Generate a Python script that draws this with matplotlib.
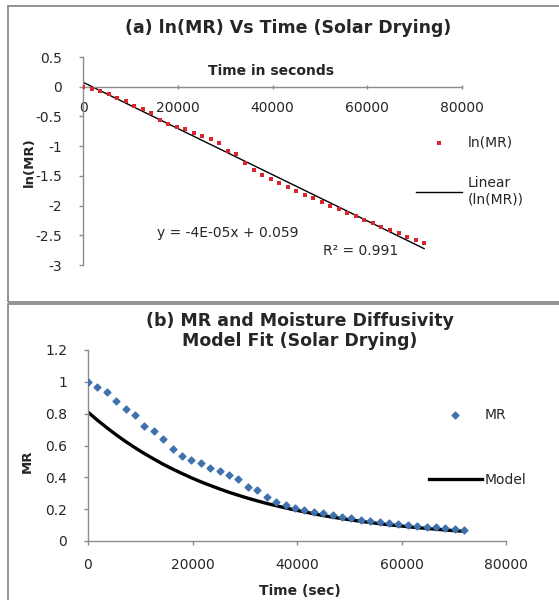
import numpy as np
import matplotlib
matplotlib.use("Agg")
import matplotlib.pyplot as plt
from matplotlib.patches import Rectangle

# time grid (s) - readings every 30 min
time_s = [0, 1800, 3600, 5400, 7200, 9000, 10800, 12600, 14400, 16200,
          18000, 19800, 21600, 23400, 25200, 27000, 28800, 30600, 32400, 34200,
          36000, 37800, 39600, 41400, 43200, 45000, 46800, 48600, 50400, 52200,
          54000, 55800, 57600, 59400, 61200, 63000, 64800, 66600, 68400, 70200,
          72000]

mr = [1.000, 0.966, 0.933, 0.880, 0.828, 0.792, 0.722, 0.689, 0.639, 0.575,
      0.535, 0.507, 0.487, 0.460, 0.439, 0.412, 0.388, 0.340, 0.320, 0.275,
      0.248, 0.225, 0.210, 0.197, 0.185, 0.173, 0.163, 0.153, 0.144, 0.135,
      0.127, 0.120, 0.113, 0.107, 0.101, 0.095, 0.090, 0.085, 0.080, 0.076,
      0.072]

# diffusivity model curve
model = [0.810, 0.759, 0.712, 0.667, 0.625, 0.586, 0.549, 0.515, 0.482, 0.452,
         0.424, 0.397, 0.372, 0.349, 0.327, 0.306, 0.287, 0.269, 0.252, 0.236,
         0.222, 0.208, 0.195, 0.183, 0.171, 0.160, 0.150, 0.141, 0.132, 0.124,
         0.116, 0.109, 0.102, 0.096, 0.090, 0.084, 0.079, 0.074, 0.069, 0.065,
         0.061]

x_ticks = [0, 20000, 40000, 60000, 80000]
x_ticklabels = ["0", "20000", "40000", "60000", "80000"]
a_yticks = [-3, -2.5, -2, -1.5, -1, -0.5, 0, 0.5]
a_yticklabels = ["-3", "-2.5", "-2", "-1.5", "-1", "-0.5", "0", "0.5"]
b_yticks = [0, 0.2, 0.4, 0.6, 0.8, 1.0, 1.2]
b_yticklabels = ["0", "0.2", "0.4", "0.6", "0.8", "1", "1.2"]

eq_text = "y = -4E-05x + 0.059"
r2_text = "R\u00b2 = 0.991"

W, H = 559.0, 600.0
AXC = "#8c8c8c"
TXT = "#262626"
RED = "#d8262f"
BLUE = "#3f72ad"


def fx(px):
    return px / W


def fy(py):
    return 1 - py / H


def style_axes(ax):
    for s in ["top", "right"]:
        ax.spines[s].set_visible(False)
    for s in ["left", "bottom"]:
        ax.spines[s].set_color(AXC)
        ax.spines[s].set_linewidth(1.0)
    ax.tick_params(colors=AXC, labelcolor=TXT, labelsize=10, length=3, width=1)


fig = plt.figure(figsize=(W / 100, H / 100), dpi=100)

# ---- panel (a) ----
ax_a = fig.add_axes([fx(83), fy(265), fx(462) - fx(83), (265 - 57) / H])
ln_mr = np.log(mr)
coef = np.polyfit(time_s, ln_mr, 1)
fit = np.polyval(coef, time_s)
ax_a.scatter(time_s, ln_mr, marker="s", s=5, color=RED, linewidths=0,
             zorder=3, label="ln(MR)")
ax_a.plot(time_s, fit, color="black", lw=1.0, label="Linear\n(ln(MR))")
ax_a.set_xlim(0, 80000)
ax_a.set_ylim(-3, 0.5)
style_axes(ax_a)
ax_a.spines["bottom"].set_position(("data", 0))
ax_a.set_xticks(x_ticks)
ax_a.set_xticklabels(x_ticklabels)
ax_a.set_yticks(a_yticks)
ax_a.set_yticklabels(a_yticklabels)
ax_a.tick_params(axis="x", direction="inout", pad=9)
ax_a.tick_params(axis="y", direction="out", pad=12)
ax_a.legend(loc="upper left", bbox_to_anchor=(fx(409), fy(129)), bbox_transform=fig.transFigure,
            frameon=False, borderpad=0, handlelength=3.3, handletextpad=0.45,
            labelspacing=1.9, scatterpoints=1, fontsize=10, labelcolor=TXT)

fig.text(fx(288), fy(28), "(a) ln(MR) Vs Time (Solar Drying)", ha="center", va="center",
         fontsize=12.5, weight="bold", color=TXT)
fig.text(fx(271), fy(71), "Time in seconds", ha="center", va="center",
         fontsize=10, weight="bold", color=TXT)
fig.text(fx(29), fy(162), "ln(MR)", ha="center", va="center", rotation=90,
         fontsize=9.5, weight="bold", color=TXT)
fig.text(fx(157), fy(233), eq_text, ha="left", va="center", fontsize=10, color=TXT)
fig.text(fx(398), fy(251), r2_text, ha="right", va="center", fontsize=10, color=TXT)

# ---- panel (b) ----
ax_b = fig.add_axes([fx(88), fy(541), fx(506) - fx(88), (541 - 350) / H])
ax_b.scatter(time_s, mr, marker="D", s=12, color=BLUE, zorder=3, label="MR")
ax_b.plot(time_s, model, color="black", lw=2.4, label="Model")
ax_b.set_xlim(0, 80000)
ax_b.set_ylim(0, 1.2)
style_axes(ax_b)
ax_b.set_xticks(x_ticks)
ax_b.set_xticklabels(x_ticklabels)
ax_b.set_yticks(b_yticks)
ax_b.set_yticklabels(b_yticklabels)
ax_b.tick_params(axis="x", direction="out", pad=9)
ax_b.tick_params(axis="y", direction="out", pad=12)
ax_b.legend(loc="upper left", bbox_to_anchor=(fx(422), fy(401)), bbox_transform=fig.transFigure,
            frameon=False, borderpad=0, handlelength=3.8, handletextpad=0.2,
            labelspacing=3.7, scatterpoints=1, fontsize=10, labelcolor=TXT)

fig.text(fx(300), fy(331), "(b) MR and Moisture Diffusivity\nModel Fit (Solar Drying)",
         ha="center", va="center", fontsize=12.5, weight="bold", color=TXT, linespacing=1.15)
fig.text(fx(300), fy(591), "Time (sec)", ha="center", va="center",
         fontsize=10, weight="bold", color=TXT)
fig.text(fx(27), fy(461), "MR", ha="center", va="center", rotation=90,
         fontsize=9.5, weight="bold", color=TXT)

# chart area borders
fig.add_artist(Rectangle((fx(8), fy(302)), 1.0, (302 - 6) / H, transform=fig.transFigure,
                         fill=False, ec="#8a8a8a", lw=1.3))
fig.add_artist(Rectangle((fx(8), -0.02), 1.0, fy(304) + 0.02, transform=fig.transFigure,
                         fill=False, ec="#8a8a8a", lw=1.3))

fig.savefig("out.png", dpi=100)
